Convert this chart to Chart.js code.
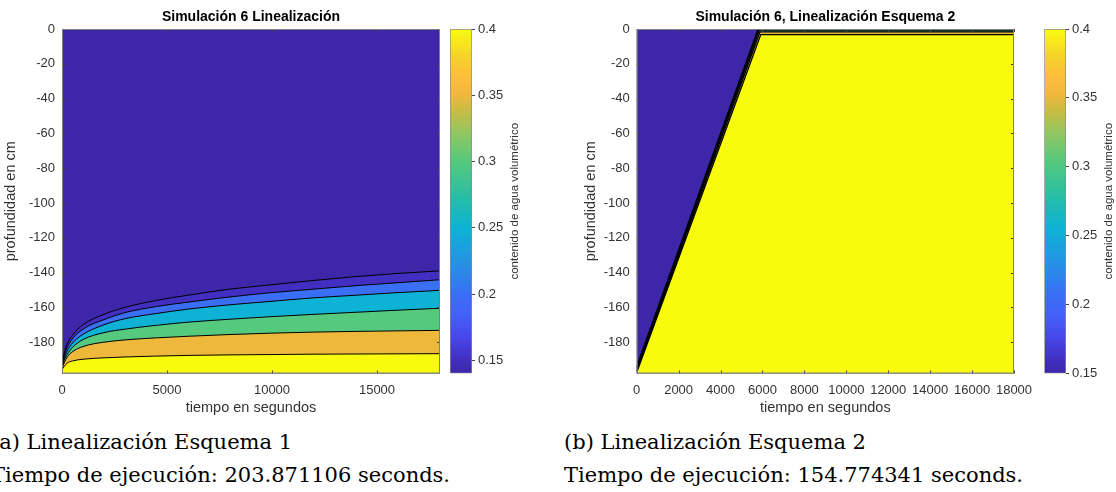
<!DOCTYPE html>
<html>
<head>
<meta charset="utf-8">
<script src="https://cdn.jsdelivr.net/npm/chart.js@4.4.1/dist/chart.umd.min.js"></script>
<style>
  body { margin: 0; background: #fff; }
  #page { position: relative; width: 1116px; height: 492px; overflow: hidden; }
  canvas { position: absolute; top: 0; }
  .caption { position: absolute; top: 426px; font-family: "DejaVu Serif", serif; font-size: 21px; line-height: 33px; color: #000; white-space: nowrap; }
</style>
</head>
<body>
<div id="page">
  <canvas id="plot-a" width="450" height="417" style="left:0px"></canvas>
  <canvas id="bar-a" width="90" height="417" style="left:440px"></canvas>
  <canvas id="plot-b" width="458" height="417" style="left:576px"></canvas>
  <canvas id="bar-b" width="82" height="417" style="left:1034px"></canvas>
  <div class="caption" style="left:-9px">(a) Linealización Esquema 1<br>Tiempo de ejecución: 203.871106 seconds.</div>
  <div class="caption" style="left:564px">(b) Linealización Esquema 2<br>Tiempo de ejecución: 154.774341 seconds.</div>
</div>
<script>
// Tick values for the axes
let depthTicks = [0, -20, -40, -60, -80, -100, -120, -140, -160, -180]
let timeTicksA = [0, 5000, 10000, 15000]
let timeTicksB = [0, 2000, 4000, 6000, 8000, 10000, 12000, 14000, 16000, 18000]
let colorTicks = [0.15, 0.2, 0.25, 0.3, 0.35, 0.4]

// Colour range of each colorbar
let colorRangeA = [0.14, 0.4]
let colorRangeB = [0.15, 0.4]

// Plot (a): depth (cm) of each contour line, read at these times (s)
let timesA = [0, 100, 250, 500, 1000, 2000, 3000, 4500, 6000, 8000, 10000, 12000, 14000, 16000, 18000]
let depthA015 = [-193.5, -186.5, -181, -176, -170, -164, -160, -156, -153, -149.5, -147, -144.5, -142.3, -140.5, -139]
let depthA020 = [-194, -188, -183, -178, -172.5, -167, -163, -159.5, -157, -154, -151.5, -149.5, -147.5, -145.8, -144.1]
let depthA025 = [-194.5, -189.5, -185, -180.5, -175.5, -170, -166.5, -163.5, -161, -158.5, -156.5, -154.5, -153, -151.5, -150.2]
let depthA030 = [-195, -190.5, -187, -183, -178.5, -174.5, -172.5, -170.3, -168.5, -166.8, -165.3, -164, -162.8, -161.6, -160.5]
let depthA035 = [-195.3, -192, -188.5, -185.5, -182.5, -180, -178.7, -177.5, -176.6, -175.6, -174.8, -174.2, -173.8, -173.5, -173.2]
let depthA040 = [-195.8, -194, -192, -190.8, -189.8, -189, -188.5, -188, -187.6, -187.3, -187.1, -186.9, -186.8, -186.7, -186.6]

// Plot (b): the front is a straight line, then the lines run along the surface
let timesB020 = [0, 5790, 18000]
let depthB020 = [-194, 0, 0]
let timesB025 = [0, 5820, 18000]
let depthB025 = [-195, -0.3, -0.3]
let timesB030 = [0, 5850, 18000]
let depthB030 = [-195.8, -0.6, -0.6]
let timesB035 = [0, 5880, 18000]
let depthB035 = [-196.6, -1.7, -1.7]
let timesB040 = [0, 5920, 18000]
let depthB040 = [-197.4, -3.2, -3.2]

// Parula-like colormap stops (position, colour)
let parulaStops = [
  [0.00, '#3e26a8'], [0.04, '#422fc2'], [0.11, '#4848ec'], [0.17, '#4461f8'], [0.23, '#3a6ff5'],
  [0.32, '#2592e6'], [0.42, '#0db2d6'], [0.50, '#22bcab'], [0.615, '#55c97d'], [0.70, '#93c661'],
  [0.76, '#c6bd43'], [0.81, '#f0b83c'], [0.86, '#fdbd3c'], [0.92, '#f5d22a'], [1.00, '#f9fb0e']
]

function hexToRgb(h) {
  return [parseInt(h.slice(1, 3), 16), parseInt(h.slice(3, 5), 16), parseInt(h.slice(5, 7), 16)]
}

// Look up a colour on the colormap, t from 0 to 1
function parula(t) {
  t = Math.min(1, Math.max(0, t))
  for (let i = 1; i < parulaStops.length; i++) {
    let [p1, c1] = parulaStops[i]
    let [p0, c0] = parulaStops[i - 1]
    if (t <= p1) {
      let f = (t - p0) / (p1 - p0)
      let a = hexToRgb(c0), b = hexToRgb(c1)
      return 'rgb(' + a.map((v, k) => Math.round(v + (b[k] - v) * f)).join(',') + ')'
    }
  }
  return parulaStops[parulaStops.length - 1][1]
}

Chart.defaults.font.family = '"Liberation Sans", Arial, Helvetica, sans-serif'
Chart.defaults.color = '#333'

// Background, box and inward ticks like a MATLAB axes
let axesBox = {
  id: 'axesBox',
  beforeDatasetsDraw(chart, args, opts) {
    let a = chart.chartArea
    let ctx = chart.ctx
    ctx.save()
    ctx.fillStyle = opts.background
    ctx.fillRect(a.left, a.top, a.width, a.height)
    ctx.restore()
  },
  afterDatasetsDraw(chart) {
    let a = chart.chartArea
    let ctx = chart.ctx
    let xs = chart.scales.x
    let ys = chart.scales.y
    ctx.save()
    ctx.strokeStyle = '#444'
    ctx.lineWidth = 1
    ctx.beginPath()
    xs.ticks.forEach(function(t) {
      let px = Math.round(xs.getPixelForValue(t.value)) + 0.5
      ctx.moveTo(px, a.bottom); ctx.lineTo(px, a.bottom - 3)
      ctx.moveTo(px, a.top); ctx.lineTo(px, a.top + 3)
    })
    ys.ticks.forEach(function(t) {
      let py = Math.round(ys.getPixelForValue(t.value)) + 0.5
      ctx.moveTo(a.left, py); ctx.lineTo(a.left + 3, py)
      ctx.moveTo(a.right, py); ctx.lineTo(a.right - 3, py)
    })
    ctx.stroke()
    ctx.strokeStyle = '#808080'
    ctx.strokeRect(a.left + 0.5, a.top + 0.5, a.width - 1, a.height - 1)
    ctx.restore()
  }
}

// Colorbar title, reading from bottom to top
let colorbarLabel = {
  id: 'colorbarLabel',
  afterDraw(chart, args, opts) {
    let a = chart.chartArea
    let ctx = chart.ctx
    ctx.save()
    ctx.translate(opts.x, (a.top + a.bottom) / 2)
    ctx.rotate(-Math.PI / 2)
    ctx.font = '11.5px "Liberation Sans", Arial, sans-serif'
    ctx.fillStyle = '#333'
    ctx.textAlign = 'center'
    ctx.textBaseline = 'middle'
    ctx.fillText(opts.text, 0, 0)
    ctx.restore()
  }
}

function makeSeries(level, times, depths, smooth) {
  return { level: level, times: times, depths: depths, smooth: smooth }
}

// Create one contour plot; lines are listed from the deepest to the shallowest
function makePlot(canvasId, title, series, range, xTicks, yWidth, yTitlePad, rightPad, lineWidth) {
  let datasets = series.map(function(s) {
    return {
      data: s.times.map((t, i) => ({ x: t, y: s.depths[i] })),
      borderColor: '#000',
      borderWidth: lineWidth,
      pointRadius: 0,
      backgroundColor: parula((s.level - range[0]) / (range[1] - range[0])),
      fill: 'start',
      cubicInterpolationMode: s.smooth ? 'monotone' : 'default',
      tension: 0
    }
  })
  return new Chart(document.getElementById(canvasId), {
    type: 'line',
    data: { datasets: datasets },
    options: {
      responsive: false,
      animation: false,
      layout: { padding: { left: 0, right: rightPad, top: 0, bottom: 0 } },
      plugins: {
        legend: { display: false },
        tooltip: { enabled: false },
        title: {
          display: true, text: title, color: '#000', fullSize: false,
          font: { size: 14, weight: 'bold' }, padding: { top: 9, bottom: 3.2 }
        },
        axesBox: { background: parula(0) }
      },
      scales: {
        x: {
          type: 'linear', min: 0, max: 18000,
          afterBuildTicks: s => { s.ticks = xTicks.map(v => ({ value: v })) },
          afterFit: s => { s.height = 43.5; s.paddingLeft = 0; s.paddingRight = 0 },
          grid: { display: false }, border: { display: false },
          ticks: { autoSkip: false, maxRotation: 0, padding: 1, font: { size: 13 }, callback: v => String(v) },
          title: { display: true, text: 'tiempo en segundos', font: { size: 14.5 }, padding: { top: 0, bottom: 0 } }
        },
        y: {
          type: 'linear', min: -198, max: 0,
          afterBuildTicks: s => { s.ticks = depthTicks.map(v => ({ value: v })) },
          afterFit: s => { s.width = yWidth },
          grid: { display: false }, border: { display: false },
          ticks: { padding: -1, font: { size: 13 }, callback: v => String(v) },
          title: { display: true, text: 'profundidad en cm', font: { size: 14.5 }, padding: { top: yTitlePad, bottom: 0 } }
        }
      }
    },
    plugins: [axesBox]
  })
}

// Create a colorbar as one floating bar filled with the colormap
function makeColorbar(canvasId, range, leftPad, axisWidth, labelX) {
  return new Chart(document.getElementById(canvasId), {
    type: 'bar',
    data: {
      labels: [''],
      datasets: [{
        data: [range],
        backgroundColor: function(context) {
          let area = context.chart.chartArea
          if (!area) return parula(0.5)
          let g = context.chart.ctx.createLinearGradient(0, area.bottom, 0, area.top)
          parulaStops.forEach(s => g.addColorStop(s[0], s[1]))
          return g
        },
        borderColor: '#8c8c8c',
        borderWidth: 1,
        borderSkipped: false,
        barPercentage: 1,
        categoryPercentage: 1
      }]
    },
    options: {
      responsive: false,
      animation: false,
      layout: { padding: { left: leftPad, right: 0, top: 29, bottom: 43.5 } },
      plugins: {
        legend: { display: false },
        tooltip: { enabled: false },
        colorbarLabel: { text: 'contenido de agua volumétrico', x: labelX }
      },
      scales: {
        x: { display: false },
        y: {
          position: 'right', min: range[0], max: range[1],
          afterBuildTicks: s => { s.ticks = colorTicks.map(v => ({ value: v })) },
          afterFit: s => { s.width = axisWidth },
          grid: { drawOnChartArea: false, tickLength: 3, color: '#444' },
          border: { display: false },
          ticks: { padding: 3, font: { size: 13 }, callback: v => String(v) }
        }
      }
    },
    plugins: [colorbarLabel]
  })
}

let seriesA = [
  makeSeries(0.4, timesA, depthA040, true),
  makeSeries(0.35, timesA, depthA035, true),
  makeSeries(0.3, timesA, depthA030, true),
  makeSeries(0.25, timesA, depthA025, true),
  makeSeries(0.2, timesA, depthA020, true),
  makeSeries(0.15, timesA, depthA015, true)
]
let seriesB = [
  makeSeries(0.4, timesB040, depthB040, false),
  makeSeries(0.35, timesB035, depthB035, false),
  makeSeries(0.3, timesB030, depthB030, false),
  makeSeries(0.25, timesB025, depthB025, false),
  makeSeries(0.2, timesB020, depthB020, false)
]

makePlot('plot-a', 'Simulación 6 Linealización', seriesA, colorRangeA, timeTicksA, 62, 2, 10, 1)
makeColorbar('bar-a', colorRangeA, 10, 58, 75)
makePlot('plot-b', 'Simulación 6, Linealización Esquema 2', seriesB, colorRangeB, timeTicksB, 60.7, 6.2, 20, 1.3)
makeColorbar('bar-b', colorRangeB, 10.3, 50, 75)
</script>
</body>
</html>
